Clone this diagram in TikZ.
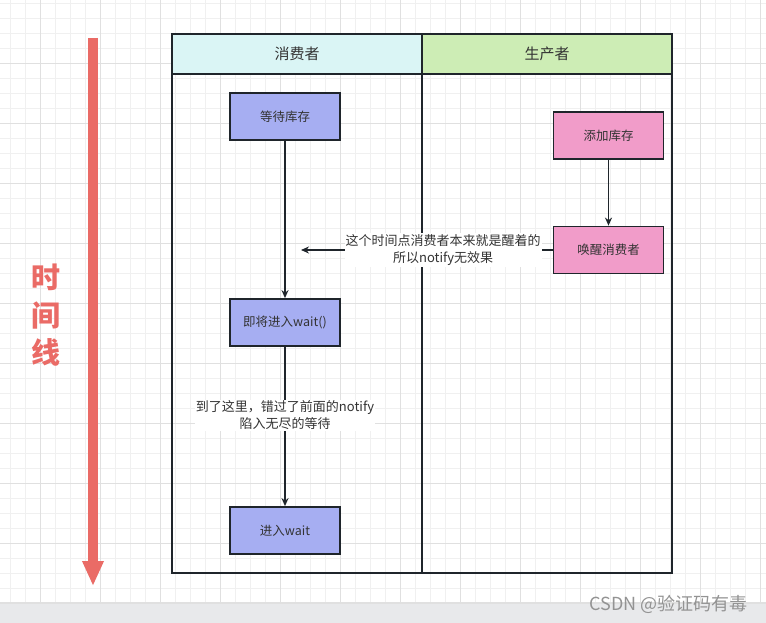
\documentclass[tikz,border=0pt]{standalone}
\usepackage{fontspec}
\setmainfont{Noto Sans CJK SC}
\usetikzlibrary{arrows.meta}
\definecolor{gridminor}{HTML}{F0F0F0}
\definecolor{gridmajor}{HTML}{E0E0E0}
\definecolor{band}{HTML}{E8E9EB}
\definecolor{tlred}{HTML}{EA6B66}
\definecolor{headcyan}{HTML}{DAF5F5}
\definecolor{headgreen}{HTML}{CDEDB5}
\definecolor{lav}{HTML}{A6AEF2}
\definecolor{pinkbox}{HTML}{F19CC9}
\definecolor{edge}{HTML}{1F252B}
\definecolor{txt}{HTML}{333333}
\tikzset{
  lane/.style={draw=edge, line width=2.2pt, inner sep=0pt, text=txt},
  head/.style={lane, minimum width=250pt, minimum height=40pt, font=\fontsize{15}{18}\selectfont},
  body/.style={lane, minimum width=250pt, minimum height=499pt},
  box/.style={draw=edge, line width=1.8pt, inner sep=0pt, minimum width=110pt, minimum height=47pt, text=txt, font=\fontsize{12.5}{15}\selectfont},
  arr/.style={draw=edge, line width=1.6pt, -{Stealth[length=8pt,width=7pt]}},
  lbl/.style={fill=white, inner sep=1pt, align=center, text=txt, font=\fontsize{13}{17}\selectfont},
  tltext/.style={text=tlred, font=\fontsize{29}{32}\selectfont\bfseries}
}
\begin{document}
\begin{tikzpicture}[x=1pt,y=-1pt]
\useasboundingbox (0,0) rectangle (766,623);
\fill[white] (0,0) rectangle (766,603);
\foreach \x in {10,25,...,766} \draw[gridminor, line width=1pt] (\x,0) -- (\x,603);
\foreach \y in {3.3,18.3,...,603} \draw[gridminor, line width=1pt] (0,\y) -- (766,\y);
\foreach \x in {40,100,...,766} \draw[gridmajor, line width=1pt] (\x,0) -- (\x,603);
\foreach \y in {63.3,123.3,...,603} \draw[gridmajor, line width=1pt] (0,\y) -- (766,\y);
\fill[band] (0,603) rectangle (766,623);
\fill[gridmajor] (0,602) rectangle (766,604);

% timeline
\coordinate (tltop) at (93,38);
\coordinate (tlend) at (93,586);
\draw[tlred, line width=10pt, -{Triangle[length=25pt,width=20pt]}] (tltop) -- (tlend);
\node[tltext] (t1) at (46,277) {时};
\node[tltext] (t2) at (46,315) {间};
\node[tltext] (t3) at (46,352) {线};

% swimlanes
\node[body] (bc) at (297,323.5) {};
\node[body] (bp) at (547,323.5) {};
\node[head, fill=headcyan] (hc) at (297,54) {消费者};
\node[head, fill=headgreen] (hp) at (547,54) {生产者};

% boxes
\node[box, fill=lav] (b1) at (285,116.5) {等待库存};
\node[box, fill=lav] (b2) at (285,322.5) {即将进入wait()};
\node[box, fill=lav] (b3) at (285,530.5) {进入wait};
\node[box, fill=pinkbox] (p1) at (608.5,135.5) {添加库存};
\node[box, fill=pinkbox] (p2) at (608.5,250) {唤醒消费者};

\coordinate (tip) at (301,250);
\draw[arr] (b1) -- (b2);
\draw[arr] (b2) -- node[lbl, pos=0.43] {到了这里，错过了前面的notify\\陷入无尽的等待} (b3);
\draw[arr] (p1) -- (p2);
\draw[arr] (p2.west) -- node[lbl, pos=0.435] {这个时间点消费者本来就是醒着的\\所以notify无效果} (tip);

% watermark
\node[text=gray!85, font=\fontsize{18}{20}\selectfont, anchor=east] (wm) at (751,604) {CSDN @验证码有毒};
\end{tikzpicture}
\end{document}
